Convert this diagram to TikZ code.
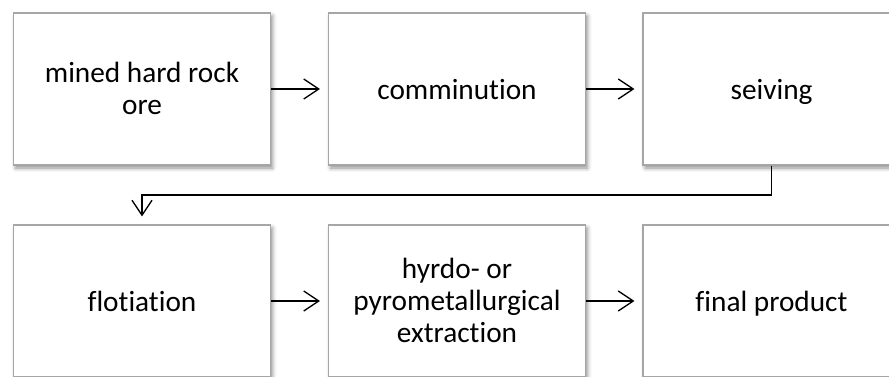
\documentclass[tikz,border=0pt]{standalone}
\usepackage{fontspec}
\setmainfont{Carlito}[Ligatures={NoCommon}]
\usetikzlibrary{arrows.meta,shadows.blur}

\tikzset{
  stagebox/.style={
    draw=black!35, line width=1.2pt, fill=white,
    minimum width=257pt, minimum height=152pt,
    blur shadow={shadow xshift=2pt, shadow yshift=-3pt,
                 shadow blur radius=4pt, shadow opacity=45}
  },
  stagetext/.style={
    align=center, inner sep=0pt, yshift=-4pt,
    font=\fontsize{29.3}{32}\selectfont,
    execute at begin node=\strut,
    execute at end node=\strut
  },
  flow/.style={
    draw=black, line width=1.3pt,
    -{Straight Barb[length=15pt,width=20pt,line width=1.3pt]},
    shorten >=8pt
  }
}

\begin{document}
\begin{tikzpicture}[x=1pt,y=-1pt]
  \useasboundingbox (0,0) rectangle (889,376);
  \clip (0,0) rectangle (889,376);

  % upper row of process stages
  \node[stagebox, label={[stagetext]center:mined hard rock\\ore}] (ore) at (142,89) {};
  \node[stagebox, label={[stagetext]center:comminution}] (comm) at (457,89) {};
  \node[stagebox, label={[stagetext]center:seiving}] (sieve) at (771.5,89) {};

  % lower row of process stages
  \node[stagebox, label={[stagetext]center:flotiation}] (flot) at (142,301) {};
  \node[stagebox, label={[stagetext]center:hyrdo- or\\pyrometallurgical\\extraction}] (extr) at (457,301) {};
  \node[stagebox, label={[stagetext]center:final product}] (final) at (771.5,301) {};

  % connectors
  \draw[flow] (ore.east) -- (comm.west);
  \draw[flow] (comm.east) -- (sieve.west);
  \coordinate (turnA) at (771.5,195);
  \coordinate (turnB) at (142,195);
  \draw[flow] (sieve.south) -- (turnA) -- (turnB) -- (flot.north);
  \draw[flow] (flot.east) -- (extr.west);
  \draw[flow] (extr.east) -- (final.west);
\end{tikzpicture}
\end{document}
